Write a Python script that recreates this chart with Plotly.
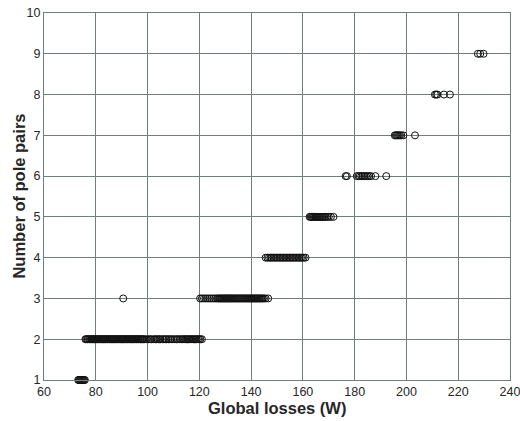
import plotly.graph_objects as go

# Global losses (W) for each number of pole pairs
losses_p1 = [73.2, 73.5, 73.8, 74.0, 74.3, 74.6, 74.9, 75.2, 75.5, 75.8]
losses_p2 = [76.0, 76.3, 76.7, 77.0, 77.4, 77.7, 78.1, 78.4, 78.8, 79.1, 79.5, 79.8,
             80.2, 80.5, 80.9, 81.2, 81.6, 81.9, 82.3, 82.6, 83.0, 83.3, 83.7, 84.0,
             84.4, 84.7, 85.1, 85.4, 85.8, 86.1, 86.5, 86.8, 87.2, 87.5, 87.9, 88.2,
             88.6, 88.9, 89.3, 89.6, 90.0, 90.3, 90.7, 91.0, 91.4, 91.7, 92.1, 92.4,
             92.8, 93.1, 93.5, 93.8, 94.2, 94.5, 94.9, 95.2, 95.6, 95.9, 96.3, 96.6,
             97.0, 97.3, 97.7, 98.0, 98.4, 98.9, 99.6, 100.4, 101.0, 101.5, 102.4,
             103.0, 103.5, 104.1, 104.6, 105.0, 105.8, 106.3, 106.9, 107.4, 108.0,
             108.6, 109.1, 109.8, 110.5, 111.2, 111.7, 112.4, 113.0, 113.6, 114.1,
             114.5, 115.0, 115.4, 115.9, 116.3, 116.8, 117.2, 117.7, 118.1, 118.6,
             119.0, 119.5, 119.9, 120.4, 121.0]
losses_p3 = [90.6, 120.3, 121.0, 121.8, 122.5, 123.3, 124.0, 124.8, 125.5, 126.2,
             126.8, 127.3, 127.7, 128.1, 128.5, 128.9, 129.3, 129.7, 130.1, 130.5,
             130.9, 131.3, 131.7, 132.1, 132.5, 132.9, 133.3, 133.7, 134.1, 134.5,
             134.9, 135.3, 135.7, 136.1, 136.5, 136.9, 137.3, 137.7, 138.1, 138.5,
             138.9, 139.3, 139.7, 140.1, 140.5, 140.9, 141.3, 141.7, 142.1, 142.5,
             142.9, 143.3, 143.7, 144.1, 144.5, 145.0, 145.6, 146.6]
losses_p4 = [145.6, 146.3, 146.9, 147.5, 148.0, 148.6, 149.2, 149.7, 150.3, 150.9,
             151.4, 152.0, 152.5, 153.1, 153.6, 154.2, 154.8, 155.3, 155.9, 156.4,
             157.0, 157.5, 158.1, 158.6, 159.2, 159.7, 160.3, 161.0]
losses_p5 = [162.6, 163.0, 163.4, 163.8, 164.2, 164.6, 165.0, 165.4, 165.8, 166.2,
             166.6, 167.0, 167.4, 167.8, 168.2, 168.7, 169.3, 170.0, 170.8, 171.8]
losses_p6 = [176.5, 177.0, 180.8, 181.5, 182.0, 182.6, 183.2, 183.8, 184.4, 185.0,
             185.6, 186.3, 188.0, 192.2]
losses_p7 = [195.5, 195.9, 196.3, 196.7, 197.1, 197.5, 198.0, 198.8, 203.3]
losses_p8 = [211.0, 211.5, 212.0, 214.5, 216.8]
losses_p9 = [227.6, 228.5, 229.8]

pole_pairs = [1, 2, 3, 4, 5, 6, 7, 8, 9]
series = [losses_p1, losses_p2, losses_p3, losses_p4, losses_p5,
          losses_p6, losses_p7, losses_p8, losses_p9]

x_ticks = [60, 80, 100, 120, 140, 160, 180, 200, 220, 240]
y_ticks = [1, 2, 3, 4, 5, 6, 7, 8, 9, 10]
x_title = "Global losses (W)"
y_title = "Number of pole pairs"

xs, ys = [], []
for p, vals in zip(pole_pairs, series):
    xs.extend(vals)
    ys.extend([p] * len(vals))

grid_col = "#6f7f7a"
text_col = "#262626"
fig = go.Figure(go.Scatter(
    x=xs, y=ys, mode="markers",
    marker=dict(symbol="circle-open", size=7, color="#111111",
                line=dict(width=1, color="#111111")),
    showlegend=False, cliponaxis=False,
))

font = "Liberation Sans, Arial, sans-serif"
fig.update_layout(
    width=520, height=421,
    margin=dict(l=44, r=10, t=13, b=41),
    paper_bgcolor="white", plot_bgcolor="white",
    font=dict(family=font, color=text_col, size=12),
)
fig.update_xaxes(
    range=[60, 240], tickvals=x_ticks, ticktext=[str(v) for v in x_ticks],
    showgrid=True, gridcolor=grid_col, gridwidth=1,
    showline=True, linecolor=grid_col, linewidth=1, mirror=True,
    ticks="", zeroline=False, ticklabeloverflow="allow", automargin=False,
    tickfont=dict(size=12.5, family=font, color=text_col),
)
fig.update_yaxes(
    range=[1, 10], tickvals=y_ticks, ticktext=[str(v) for v in y_ticks],
    showgrid=True, gridcolor=grid_col, gridwidth=1,
    showline=True, linecolor=grid_col, linewidth=1, mirror=True,
    ticks="", zeroline=False, automargin=False,
    tickfont=dict(size=12.5, family=font, color=text_col),
)
fig.add_annotation(
    text="<b>" + x_title + "</b>", xref="paper", yref="paper",
    x=0.5, y=-0.076, xanchor="center", yanchor="middle", showarrow=False,
    font=dict(size=16.5, family=font, color=text_col),
)
fig.add_annotation(
    text="<b>" + y_title + "</b>", xref="paper", yref="paper",
    x=-0.0557, y=0.5, xanchor="center", yanchor="middle", showarrow=False,
    textangle=-90, font=dict(size=16.5, family=font, color=text_col),
)

fig.write_html("out.html")
